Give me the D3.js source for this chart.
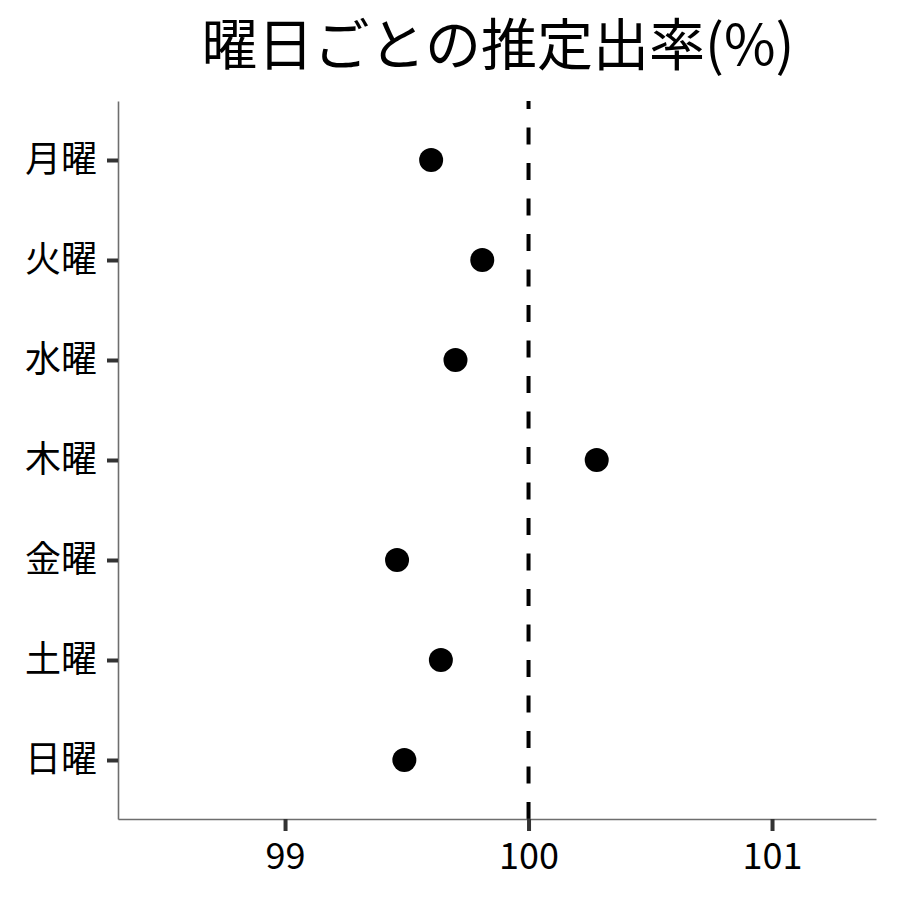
<!DOCTYPE html>
<html>
<head>
<meta charset="utf-8">
<script src="https://cdn.jsdelivr.net/npm/d3@7"></script>
<style>
    body { margin: 0; background: #fff; }
    text { font-family: "Noto Sans CJK JP", "Noto Sans", sans-serif; }
</style>
</head>
<body>
<div id="chart"></div>
<script>
// days of week (top to bottom) and estimated rate (%)
let days = ['月曜', '火曜', '水曜', '木曜', '金曜', '土曜', '日曜'];
let rates = [99.60, 99.81, 99.70, 100.28, 99.46, 99.64, 99.49];
let xTicks = [99, 100, 101];
let refValue = 100;
let title = '曜日ごとの推定出率(%)';

let width = 900, height = 900;
let margin = { top: 101, right: 24, bottom: 81, left: 118 };

let svg = d3.select('#chart')
    .append('svg')
    .attr('width', width)
    .attr('height', height);

let x = d3.scaleLinear()
    .domain([98.314, 101.427])
    .range([margin.left, width - margin.right]);

let y = d3.scalePoint()
    .domain(days)
    .range([margin.top, height - margin.bottom])
    .padding(0.59);

// title
svg.append('text')
    .attr('x', 498)
    .attr('y', 65)
    .attr('text-anchor', 'middle')
    .style('font-size', '56px')
    .attr('fill', '#000')
    .text(title);

// reference line (dashed), drawn bottom to top so the pattern starts at the axis
svg.append('line')
    .attr('x1', x(refValue)).attr('x2', x(refValue))
    .attr('y1', height - margin.bottom).attr('y2', margin.top)
    .attr('stroke', '#000')
    .attr('stroke-width', 4)
    .attr('stroke-dasharray', '17,18.5');

// x axis
let xAxis = svg.append('g')
    .attr('transform', 'translate(0,' + (height - margin.bottom) + ')')
    .call(d3.axisBottom(x).tickValues(xTicks).tickFormat(d3.format('d'))
        .tickSize(12).tickPadding(12).tickSizeOuter(0));

// y axis
let yAxis = svg.append('g')
    .attr('transform', 'translate(' + margin.left + ',0)')
    .call(d3.axisLeft(y).tickSize(11).tickPadding(10).tickSizeOuter(0));

[xAxis, yAxis].forEach(function (ax) {
    ax.select('.domain')
        .attr('stroke', '#6e6e6e')
        .attr('stroke-width', 1.6);
    ax.selectAll('.tick line')
        .attr('stroke', '#333')
        .attr('stroke-width', 4);
    ax.selectAll('.tick text')
        .attr('fill', '#000')
        .style('font-size', '36px')
        .style('font-family', '"Noto Sans CJK JP", "Noto Sans", sans-serif');
});

// points
svg.selectAll('circle.pt')
    .data(days)
    .enter()
    .append('circle')
    .attr('class', 'pt')
    .attr('cx', function (d, i) { return x(rates[i]); })
    .attr('cy', function (d) { return y(d); })
    .attr('r', 12)
    .attr('fill', '#000');
</script>
</body>
</html>
